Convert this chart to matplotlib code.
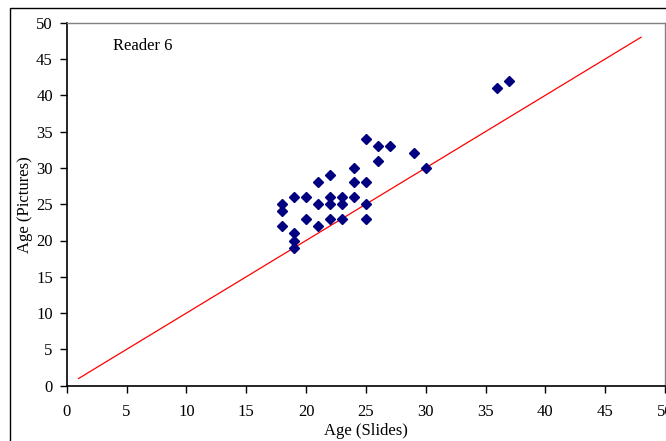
import matplotlib.pyplot as plt
from matplotlib.patches import Rectangle

plt.rcParams['font.family'] = ['Liberation Serif', 'DejaVu Serif']

# Alter auf Dias (x) und auf Bildern (y), Reader 6
slides = [25, 26, 27, 29, 26, 30, 24, 22, 21, 24, 25,
          19, 20, 22, 23, 24, 18, 21, 22, 23, 25, 18,
          20, 22, 23, 25, 18, 21, 19, 19, 19, 36, 37]
pictures = [34, 33, 33, 32, 31, 30, 30, 29, 28, 28, 28,
            26, 26, 26, 26, 26, 25, 25, 25, 25, 25, 24,
            23, 23, 23, 23, 22, 22, 21, 20, 19, 41, 42]

# Gleichheitslinie
line_x = list(range(1, 49))
line_y = list(range(1, 49))

x_ticks = [0, 5, 10, 15, 20, 25, 30, 35, 40, 45, 50]
y_ticks = [0, 5, 10, 15, 20, 25, 30, 35, 40, 45, 50]

W, H = 666, 441
fig = plt.figure(figsize=(W / 100, H / 100), dpi=100)

# aeusserer Rahmen des Diagramms (rechts und unten abgeschnitten)
fig.patches.append(Rectangle((10 / W, -0.1), 1.2, 1 - 8 / H + 0.1,
                             transform=fig.transFigure, fill=False,
                             edgecolor='black', linewidth=1.0))

ax = fig.add_axes([66.7 / W, (H - 385.7) / H, (665 - 66.7) / W, (385.7 - 22.7) / H])

ax.plot(line_x, line_y, color='red', linewidth=0.9)
ax.plot(slides, pictures, linestyle='none', marker='D', markersize=4.6,
        color='#000080', markeredgecolor='#000080')

ax.text(3.9, 46.8, 'Reader 6', fontsize=12, va='center', ha='left')

ax.set_xlim(0, 50)
ax.set_ylim(0, 50)
ax.set_xticks(x_ticks)
ax.set_yticks(y_ticks)
ax.tick_params(axis='both', direction='out', length=5, width=1, labelsize=12)
ax.tick_params(axis='x', pad=8)
ax.tick_params(axis='y', pad=5)

ax.spines['left'].set_color('black')
ax.spines['bottom'].set_color('black')
ax.spines['left'].set_linewidth(1.2)
ax.spines['bottom'].set_linewidth(1.2)
ax.spines['top'].set_color('#808080')
ax.spines['right'].set_color('#808080')
ax.spines['top'].set_linewidth(1.0)
ax.spines['right'].set_linewidth(1.0)

ax.set_xlabel('Age (Slides)', fontsize=12, labelpad=2)
ax.set_ylabel('Age (Pictures)', fontsize=12, va='center')
ax.yaxis.set_label_coords(-0.07, 0.5)

fig.savefig('out.png', dpi=100)
